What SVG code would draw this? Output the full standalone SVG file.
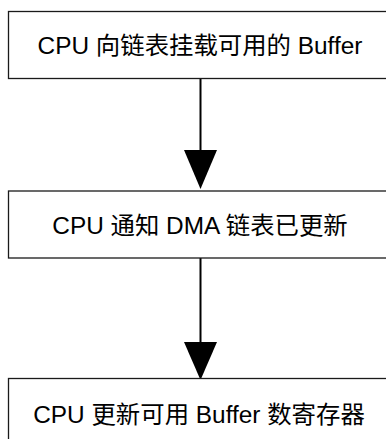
<svg xmlns="http://www.w3.org/2000/svg" width="386" height="439" viewBox="0 0 386 439">
<defs>
<style>
.box{fill:#ffffff;stroke:#1a1a1a;stroke-width:1.3}
.lbl{font-family:"Liberation Sans","Noto Sans CJK SC",sans-serif;font-size:24.4px;fill:#000000;text-anchor:middle}
.edge{stroke:#000000;stroke-width:2;fill:none}
.head{fill:#000000}
</style>
</defs>
<rect x="0" y="0" width="386" height="439" fill="#ffffff"/>
<g id="connectors">
<line class="edge" x1="200.5" y1="78.5" x2="200.5" y2="152"/>
<polygon class="head" points="184,150 217,150 200.5,189"/>
<line class="edge" x1="200.5" y1="258" x2="200.5" y2="344"/>
<polygon class="head" points="184,342 217,342 200.5,380"/>
</g>
<g id="node1">
<rect class="box" x="8.5" y="11.5" width="383" height="67"/>
<text class="lbl" x="200" y="54">CPU 向链表挂载可用的 Buffer</text>
</g>
<g id="node2">
<rect class="box" x="8.5" y="191" width="383" height="67"/>
<text class="lbl" x="200" y="234">CPU 通知 DMA 链表已更新</text>
</g>
<g id="node3">
<rect class="box" x="8.5" y="378.5" width="383" height="67"/>
<text class="lbl" x="199" y="423">CPU 更新可用 Buffer 数寄存器</text>
</g>
</svg>
